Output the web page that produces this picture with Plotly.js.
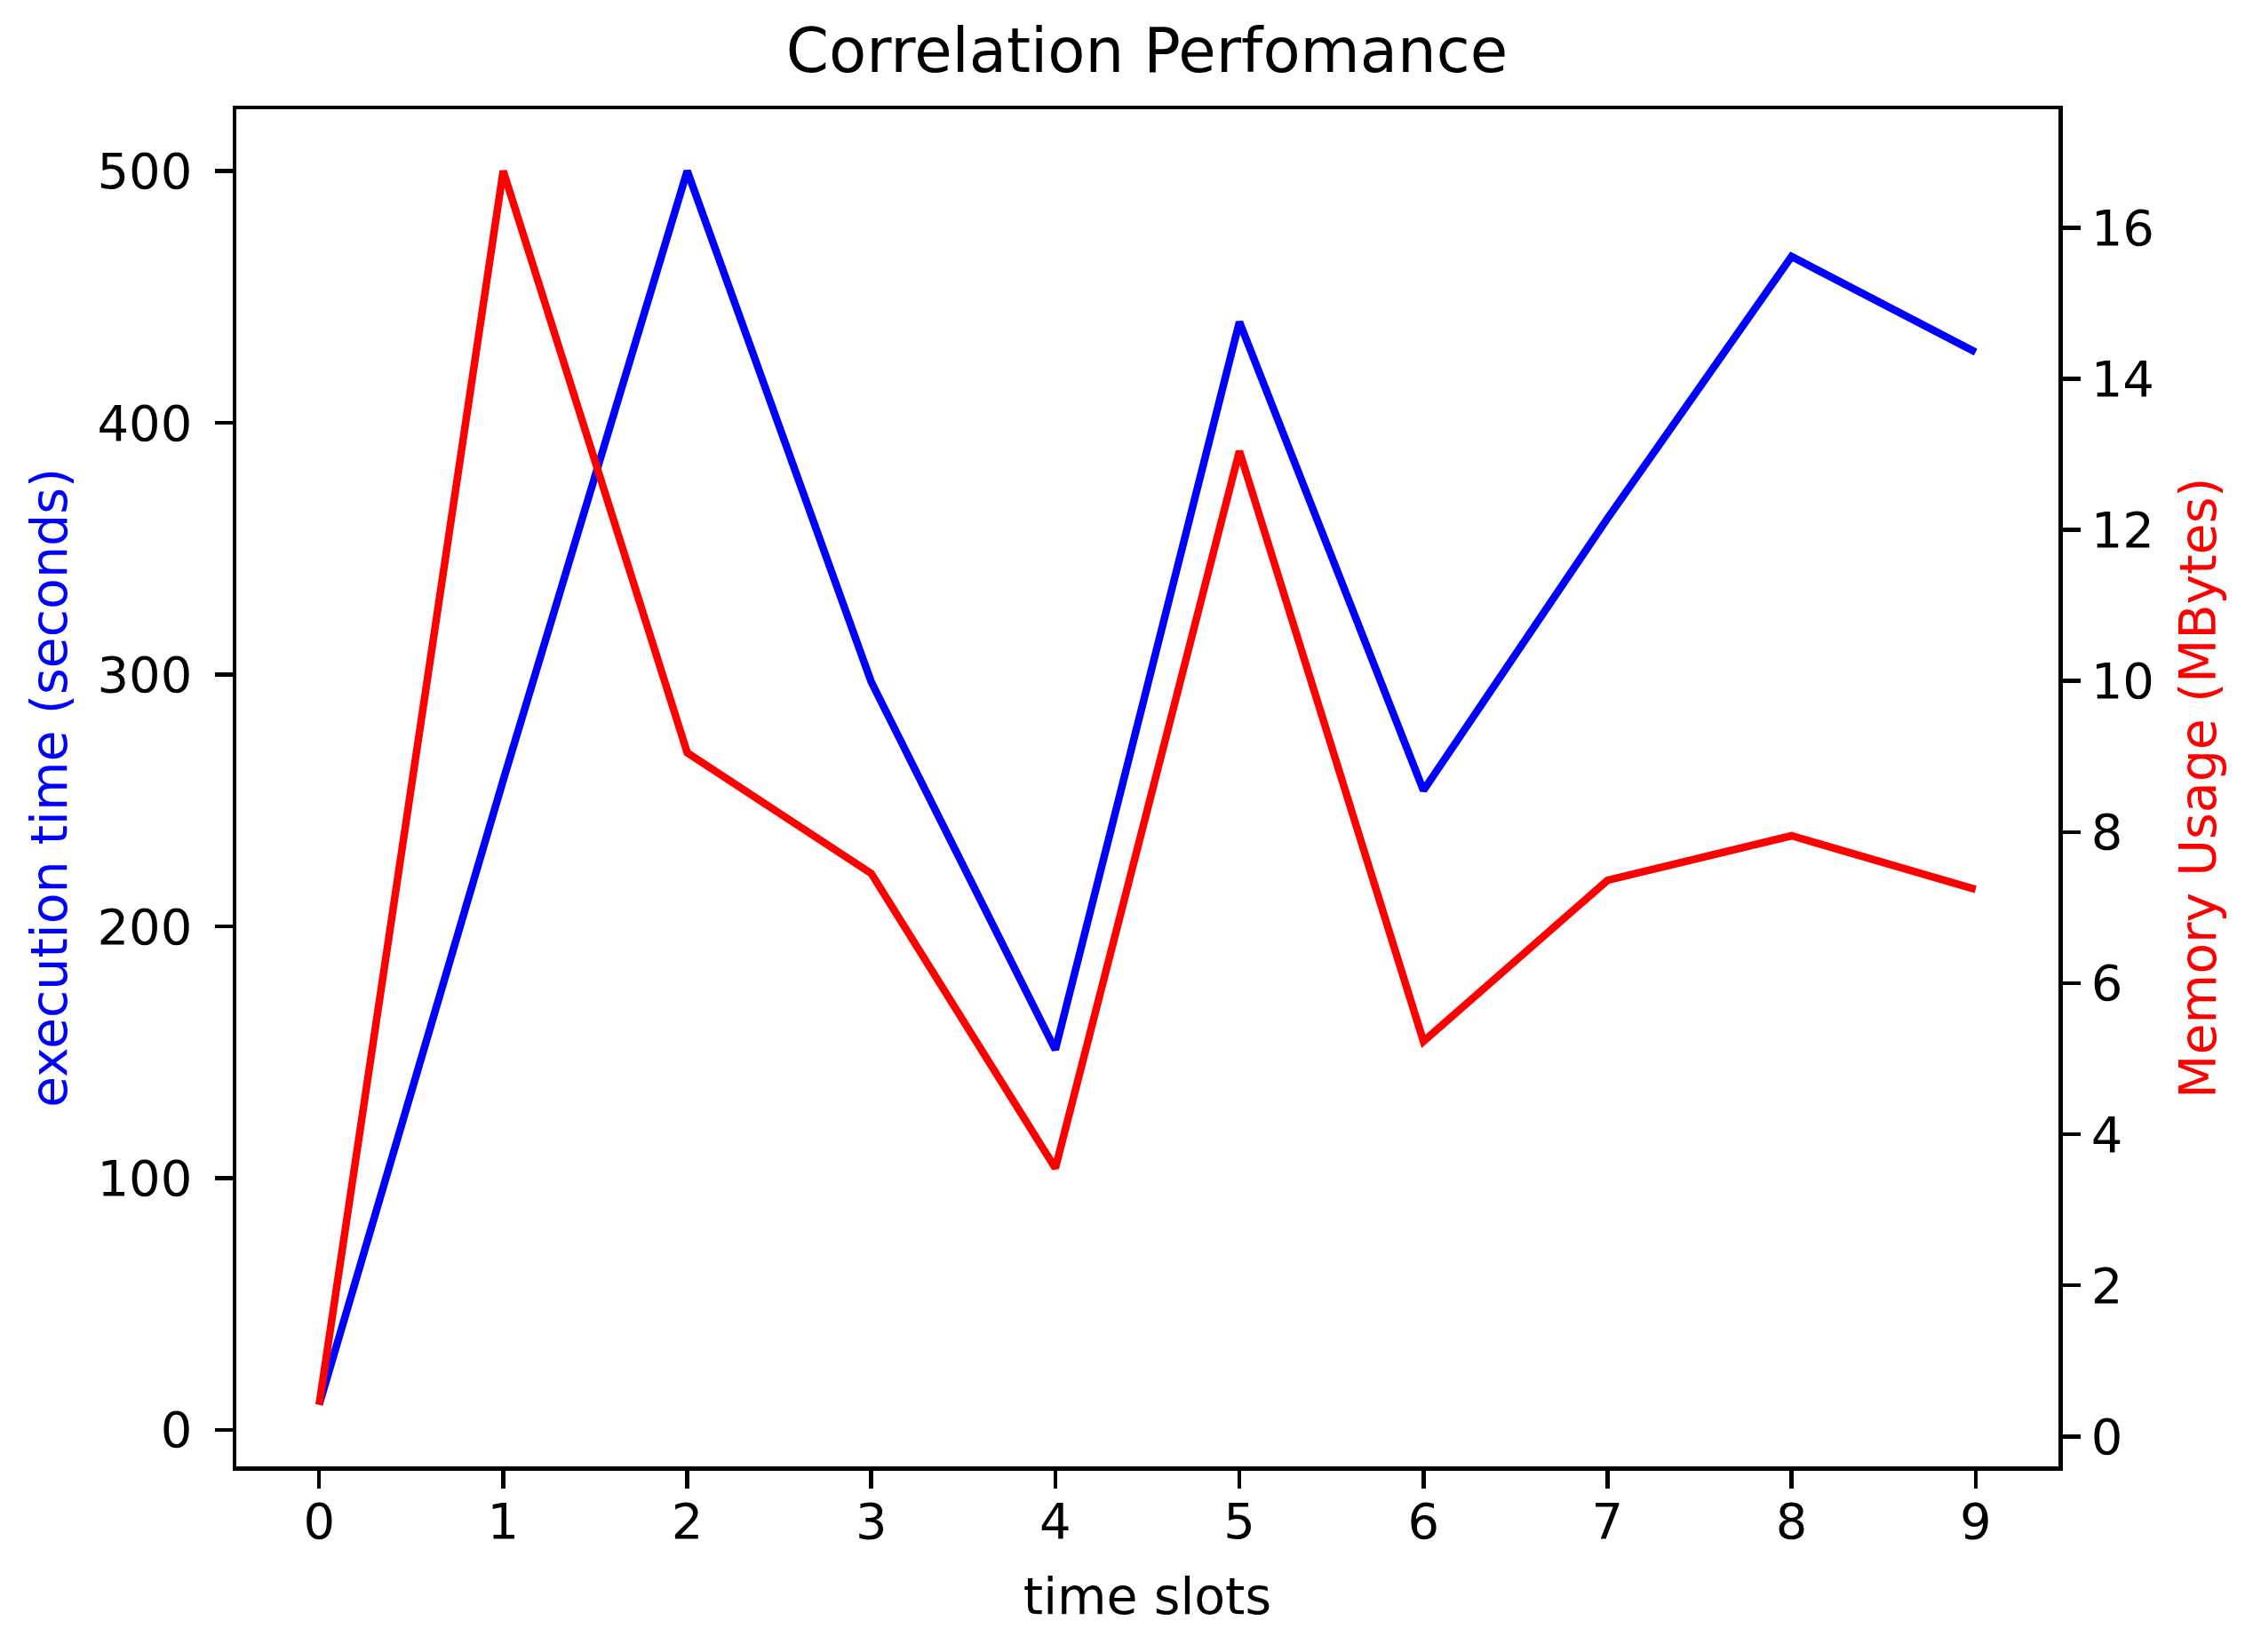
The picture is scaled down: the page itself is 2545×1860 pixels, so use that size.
<!DOCTYPE html>
<html>
<head>
<meta charset="utf-8">
<script src="https://cdn.plot.ly/plotly-3.0.1.min.js"></script>
<style>
  html, body { margin: 0; padding: 0; background: #ffffff; }
  #chart { width: 2545px; height: 1860px; }
</style>
</head>
<body>
<div id="chart"></div>
<script>
// ---- data ----
const timeSlots = [0, 1, 2, 3, 4, 5, 6, 7, 8, 9];
const executionTime = [10, 258, 500, 297, 151, 440, 254, 362, 466, 428];
const memoryUsage = [0.42, 16.75, 9.05, 7.45, 3.55, 13.04, 5.23, 7.36, 7.95, 7.24];
const xTickVals = [0, 1, 2, 3, 4, 5, 6, 7, 8, 9];
const yTickVals = [0, 100, 200, 300, 400, 500];
const y2TickVals = [0, 2, 4, 6, 8, 10, 12, 14, 16];

// matplotlib-like 5% auto margins
function padRange(arr, frac) {
  const lo = Math.min(...arr), hi = Math.max(...arr);
  const d = (hi - lo) * frac;
  return [lo - d, hi + d];
}

const FONT = "DejaVu Sans, Liberation Sans, sans-serif";
const TICK_FONT = {family: FONT, size: 56, color: "#000000"};
const LW = 4.5;

const traces = [
  {
    x: timeSlots, y: executionTime, type: "scatter", mode: "lines",
    line: {color: "#0000ff", width: 8.5}, yaxis: "y", showlegend: false,
    hoverinfo: "skip"
  },
  {
    x: timeSlots, y: memoryUsage, type: "scatter", mode: "lines",
    line: {color: "#ff0000", width: 8.5}, yaxis: "y2", showlegend: false,
    hoverinfo: "skip"
  }
];

const layout = {
  width: 2545, height: 1860,
  paper_bgcolor: "#ffffff", plot_bgcolor: "#ffffff",
  margin: {l: 266, r: 228, t: 123, b: 209, pad: 0},
  showlegend: false,
  title: {
    text: "Correlation Perfomance",
    font: {family: FONT, size: 69, color: "#000000"},
    x: (264 + 2318) / 2 / 2545, xanchor: "center",
    y: 1 - 57 / 1860, yanchor: "middle", yref: "container"
  },
  xaxis: {
    range: padRange(timeSlots, 0.05),
    tickmode: "array", tickvals: xTickVals, ticktext: xTickVals.map(String),
    ticks: "outside", ticklen: 20, tickwidth: LW, tickcolor: "#000000",
    showline: true, linecolor: "#000000", linewidth: LW, mirror: true,
    showgrid: false, zeroline: false,
    tickfont: TICK_FONT, ticklabelstandoff: -11,
    title: {text: "time slots", font: {family: FONT, size: 57, color: "#000000"}, standoff: 35}
  },
  yaxis: {
    range: padRange(executionTime, 0.05),
    tickmode: "array", tickvals: yTickVals, ticktext: yTickVals.map(String),
    ticks: "outside", ticklen: 20, tickwidth: LW, tickcolor: "#000000",
    showline: true, linecolor: "#000000", linewidth: LW,
    showgrid: false, zeroline: false,
    tickfont: TICK_FONT, ticklabelstandoff: 14,
    title: {text: "execution time (seconds)", font: {family: FONT, size: 57, color: "#0000ff"}, standoff: 17}
  },
  yaxis2: {
    range: padRange(memoryUsage, 0.05),
    overlaying: "y", side: "right",
    tickmode: "array", tickvals: y2TickVals, ticktext: y2TickVals.map(String),
    ticks: "outside", ticklen: 20, tickwidth: LW, tickcolor: "#000000",
    showline: true, linecolor: "#000000", linewidth: LW,
    showgrid: false, zeroline: false,
    tickfont: TICK_FONT, ticklabelstandoff: 1,
    title: {text: "Memory Usage (MBytes)", font: {family: FONT, size: 57, color: "#ff0000"}, standoff: 31}
  }
};

Plotly.newPlot("chart", traces, layout, {staticPlot: true, displayModeBar: false});
</script>
</body>
</html>
